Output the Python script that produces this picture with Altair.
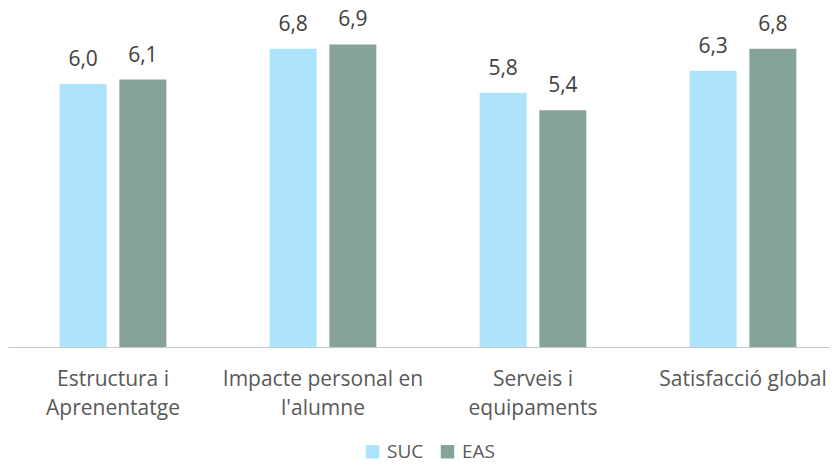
import altair as alt
import pandas as pd

categories = ["Estructura i Aprenentatge", "Impacte personal en l'alumne",
              "Serveis i equipaments", "Satisfacció global"]
label_lines = [["Estructura i", "Aprenentatge"], ["Impacte personal en", "l'alumne"],
               ["Serveis i", "equipaments"], ["Satisfacció global"]]
series = ["SUC", "EAS"]
suc_values = [6.0, 6.8, 5.8, 6.3]
eas_values = [6.1, 6.9, 5.4, 6.8]
colors = ["#ADE3FD", "#86A39A"]

rows = []
for c, s, e in zip(categories, suc_values, eas_values):
    rows.append({"cat": c, "serie": "SUC", "value": s})
    rows.append({"cat": c, "serie": "EAS", "value": e})
df = pd.DataFrame(rows)

parts = []
for c, lines in zip(categories, label_lines):
    arr = "[" + ",".join("'" + l.replace("'", "\\'") + "'" for l in lines) + "]"
    parts.append(f"datum.label == '{c.replace(chr(39), chr(92) + chr(39))}' ? {arr}")
label_expr = " : ".join(parts) + " : datum.label"

FONT = "Open Sans"

x = alt.X("cat:N", sort=categories, title=None,
          scale=alt.Scale(range=[0, 840], paddingInner=0, paddingOuter=0),
          axis=alt.Axis(labelExpr=label_expr, labelAngle=0, labelFont=FONT,
                        labelFontSize=21, labelColor="#595959", labelLineHeight=29,
                        labelBaseline="alphabetic", labelPadding=38.7, labelLimit=400,
                        ticks=False, tickSize=0, domainColor="#C8C8C8", domainWidth=1,
                        grid=False))
xo = alt.XOffset("serie:N", sort=series,
                 scale=alt.Scale(paddingInner=0.2127, paddingOuter=0.865))
y = alt.Y("value:Q", scale=alt.Scale(domain=[0, 7.64], nice=False, zero=True),
          axis=None)

base = alt.Chart(df).encode(x=x, xOffset=xo, y=y)

bars = base.mark_bar().encode(
    color=alt.Color("serie:N", sort=series,
                    scale=alt.Scale(domain=series, range=colors),
                    legend=alt.Legend(title=None, orient="none", legendX=355, legendY=430,
                                      direction="horizontal", symbolType="square",
                                      symbolSize=180, symbolStrokeWidth=0,
                                      labelFont=FONT, labelFontSize=19,
                                      labelColor="#595959", labelOffset=5,
                                      columnPadding=14, padding=0))
)

texts = base.transform_calculate(
    lbl="replace(format(datum.value, '.1f'), '.', ',')"
).mark_text(baseline="alphabetic", dy=-18, font=FONT, fontSize=21, color="#404040").encode(
    text="lbl:N"
)

chart = alt.layer(bars, texts).properties(
    width=822, height=335,
    padding={"left": 0, "top": 4, "right": 0, "bottom": 115},
    autosize=alt.AutoSizeParams(type="none"),
).configure_view(stroke=None)

chart.save("out.html", embed_options={"renderer": "svg", "actions": False})
